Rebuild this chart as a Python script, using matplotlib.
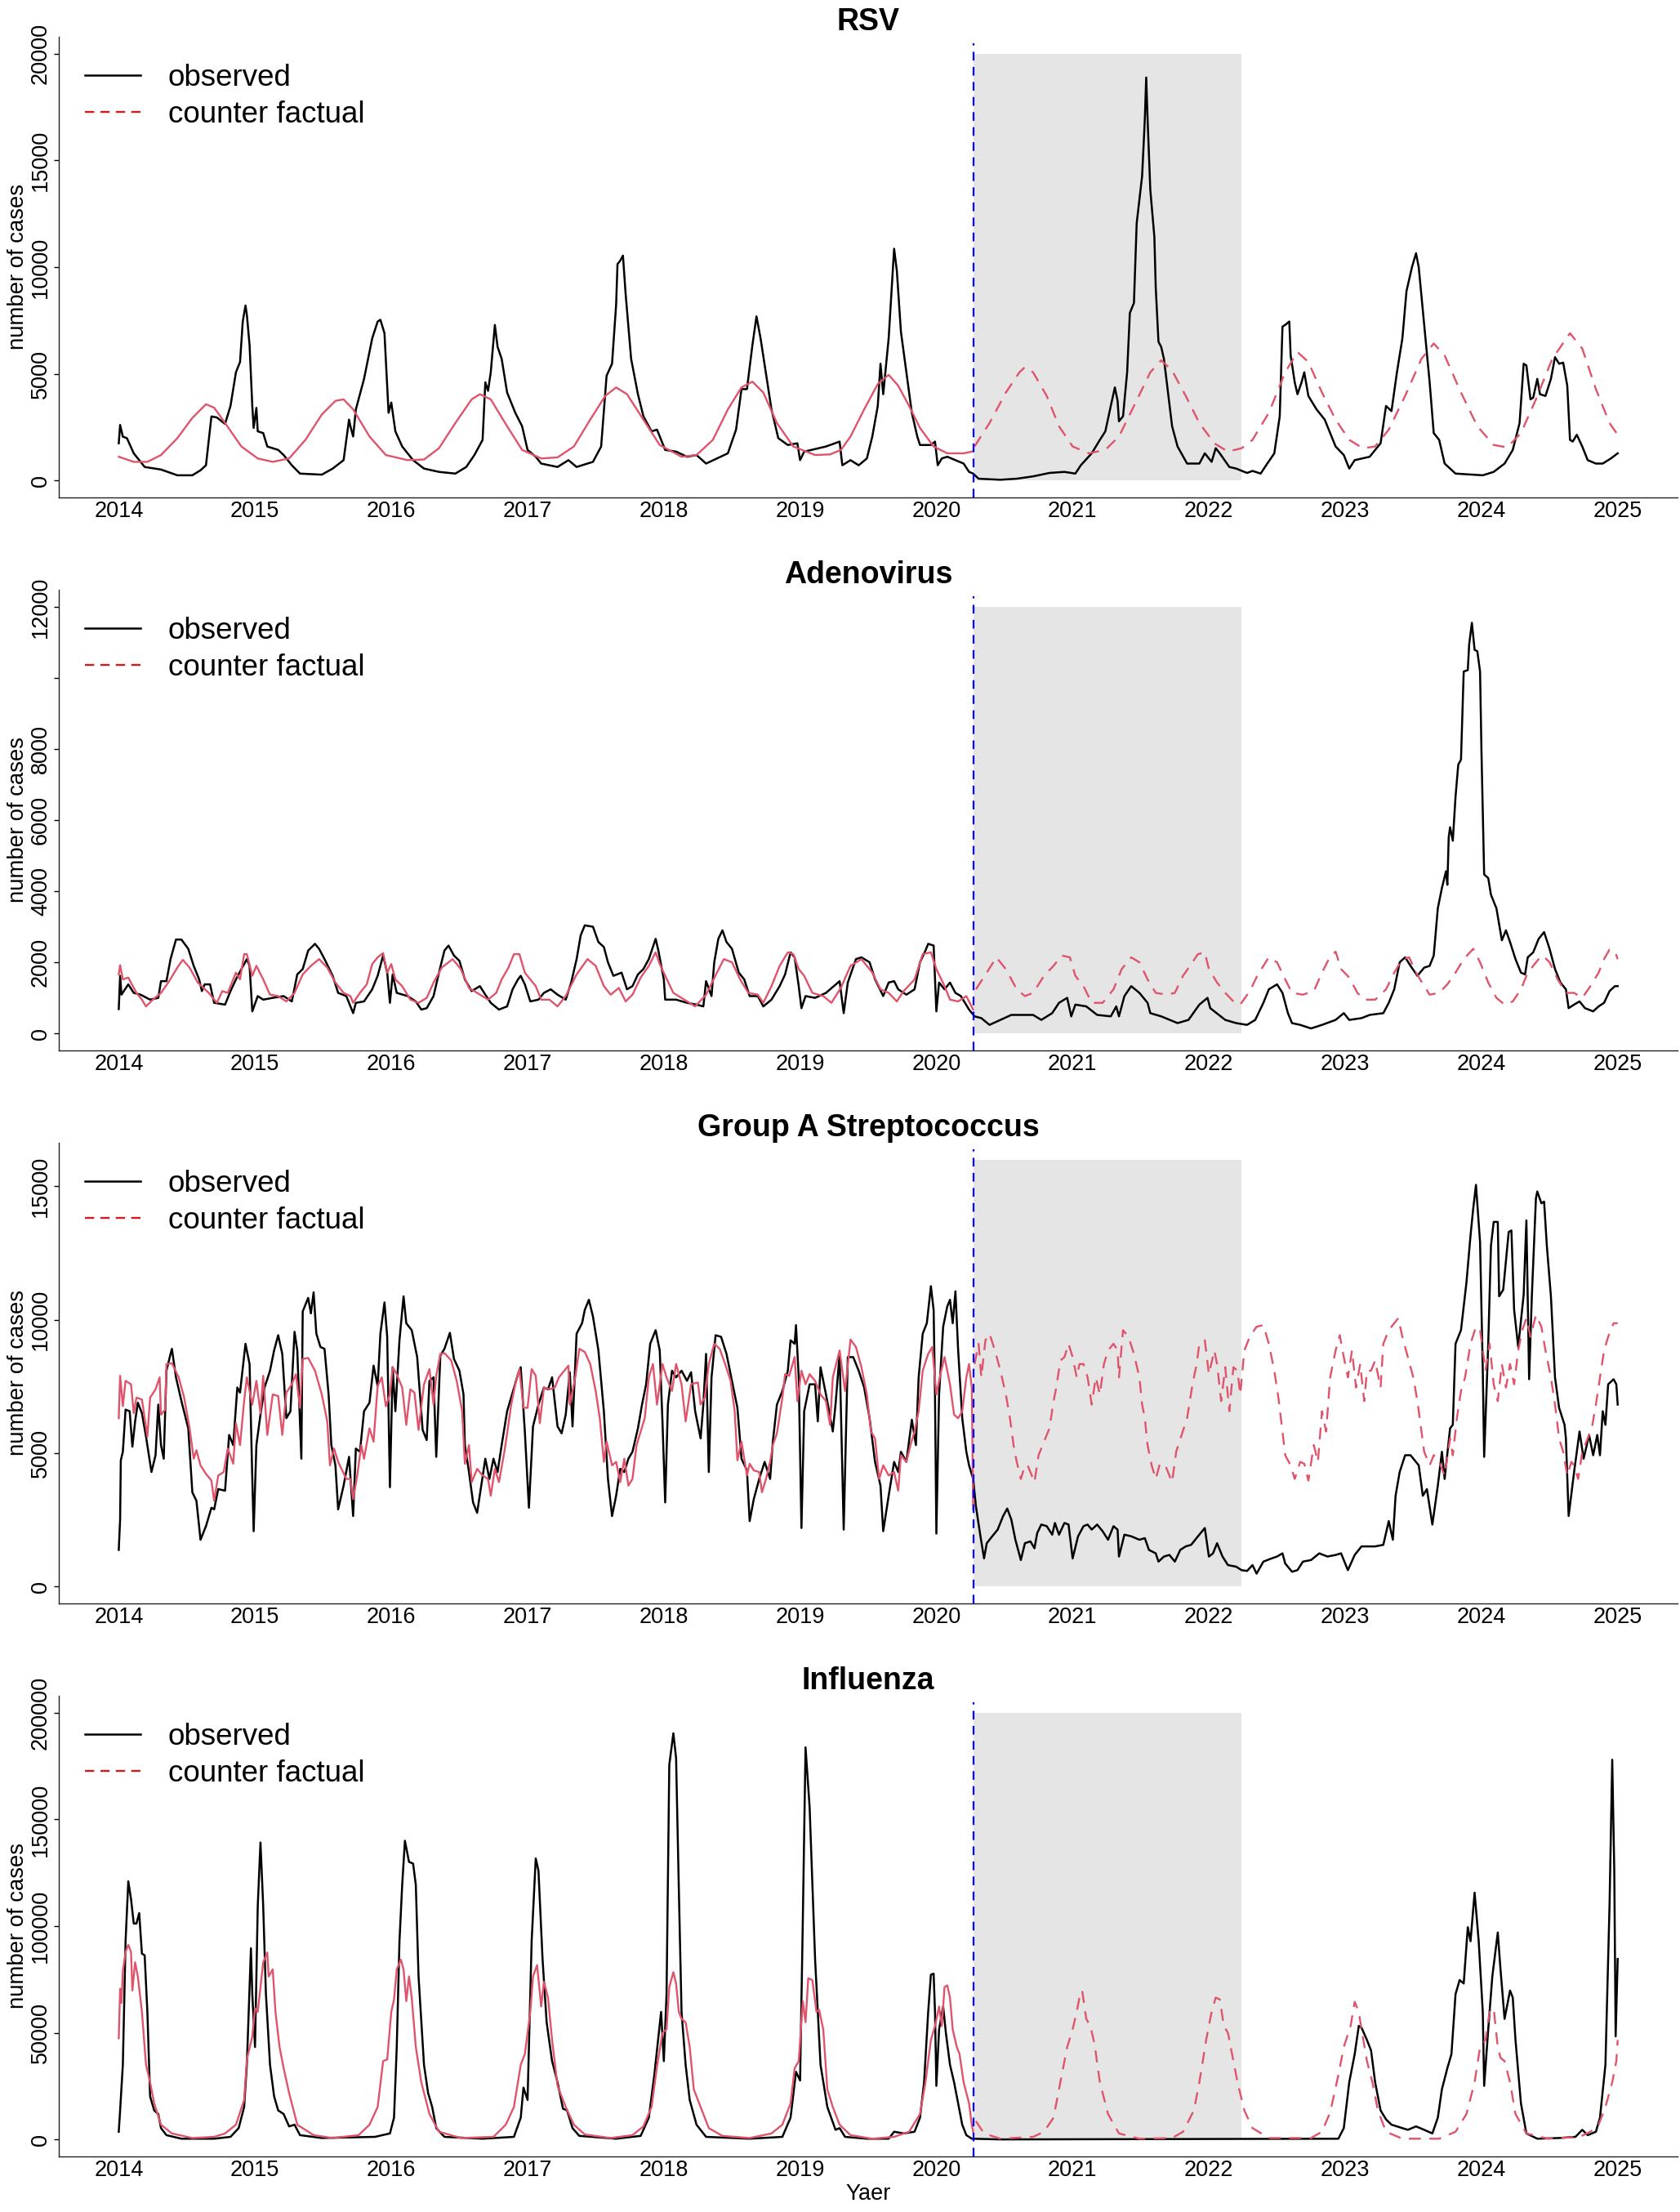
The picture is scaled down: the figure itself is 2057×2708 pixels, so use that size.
import matplotlib
matplotlib.use('Agg')
import matplotlib.pyplot as plt
from matplotlib.lines import Line2D
import numpy as np

plt.rcParams['font.family'] = ['Liberation Sans', 'DejaVu Sans']

# intervention line and shaded period (decimal years)
cut = 2020.27
shade_end = 2022.24

# ---- RSV ----
rsv_obs = [(2014.00,1740),(2014.01,2600),(2014.03,2050),(2014.06,1980),(2014.11,1270),(2014.19,630),(2014.31,510),(2014.43,240),(2014.54,240),(2014.60,475),(2014.64,710),(2014.68,3000),(2014.72,2950),(2014.78,2650),(2014.82,3490),(2014.86,5070),(2014.89,5550),(2014.91,7450),(2014.93,8200),(2014.94,7770),(2014.96,6340),(2014.98,3490),(2014.99,2460),(2015.01,3400),(2015.02,2300),(2015.06,2220),(2015.09,1590),(2015.17,1430),(2015.21,1190),(2015.27,710),(2015.33,320),(2015.49,270),(2015.57,555),(2015.65,950),(2015.69,2850),(2015.70,2540),(2015.72,2060),(2015.74,3330),(2015.80,4760),(2015.86,6660),(2015.90,7450),(2015.92,7530),(2015.95,6900),(2015.98,3170),(2016.00,3650),(2016.03,2300),(2016.08,1590),(2016.16,950),(2016.24,555),(2016.35,400),(2016.47,320),(2016.55,630),(2016.61,1190),(2016.67,1900),(2016.69,4600),(2016.71,4200),(2016.73,5070),(2016.76,7290),(2016.78,6260),(2016.81,5700),(2016.85,4120),(2016.91,3170),(2016.96,2540),(2017.00,1430),(2017.06,1110),(2017.10,790),(2017.22,630),(2017.30,950),(2017.36,630),(2017.48,870),(2017.54,1590),(2017.58,4910),(2017.62,5470),(2017.65,8240),(2017.66,10140),(2017.68,10300),(2017.70,10540),(2017.72,8720),(2017.76,5700),(2017.81,4040),(2017.85,3010),(2017.91,2300),(2017.95,2380),(2018.01,1430),(2018.09,1350),(2018.17,1110),(2018.24,1190),(2018.31,790),(2018.39,1030),(2018.47,1270),(2018.53,2380),(2018.57,4280),(2018.61,4280),(2018.65,6340),(2018.68,7690),(2018.71,6660),(2018.75,5000),(2018.79,3330),(2018.84,1980),(2018.91,1660),(2018.98,1740),(2019.00,950),(2019.03,1350),(2019.19,1590),(2019.29,1820),(2019.31,710),(2019.37,950),(2019.43,710),(2019.49,1030),(2019.53,2060),(2019.57,3490),(2019.59,5470),(2019.61,4040),(2019.65,6660),(2019.69,10860),(2019.71,9830),(2019.74,6970),(2019.78,5070),(2019.82,3170),(2019.86,2060),(2019.88,1660),(2019.96,1660),(2019.99,1820),(2020.01,710),(2020.04,1030),(2020.08,1110),(2020.14,950),(2020.20,790),(2020.24,400),(2020.27,320),(2020.31,80),(2020.47,30),(2020.59,80),(2020.71,190),(2020.83,350),(2020.94,400),(2021.02,320),(2021.06,710),(2021.14,1270),(2021.20,1900),(2021.24,2300),(2021.28,3490),(2021.31,4360),(2021.33,3730),(2021.34,2770),(2021.37,3010),(2021.40,5070),(2021.42,7850),(2021.45,8320),(2021.47,12050),(2021.51,14270),(2021.53,16960),(2021.54,18890),(2021.55,16960),(2021.57,13630),(2021.60,11410),(2021.61,9030),(2021.63,6500),(2021.65,6260),(2021.67,5700),(2021.70,4120),(2021.73,2540),(2021.77,1590),(2021.84,790),(2021.93,790),(2021.97,1270),(2022.02,870),(2022.05,1510),(2022.08,1270),(2022.15,630),(2022.20,555),(2022.28,350),(2022.32,445),(2022.38,320),(2022.42,710),(2022.48,1270),(2022.52,3010),(2022.54,7210),(2022.56,7290),(2022.59,7450),(2022.60,5860),(2022.63,4600),(2022.65,4040),(2022.68,4600),(2022.70,5070),(2022.73,3960),(2022.79,3330),(2022.85,2850),(2022.89,2220),(2022.93,1590),(2022.99,1190),(2023.03,555),(2023.07,950),(2023.18,1110),(2023.26,1740),(2023.30,3490),(2023.34,3250),(2023.38,5070),(2023.42,6660),(2023.45,8870),(2023.49,9990),(2023.52,10650),(2023.54,9990),(2023.58,7290),(2023.62,4600),(2023.65,2220),(2023.69,1900),(2023.73,790),(2023.81,320),(2024.01,240),(2024.09,400),(2024.17,790),(2024.23,1430),(2024.28,2690),(2024.31,5470),(2024.33,5390),(2024.36,3800),(2024.38,3880),(2024.41,4760),(2024.43,4040),(2024.47,3960),(2024.51,4760),(2024.54,5780),(2024.57,5470),(2024.60,5520),(2024.63,4440),(2024.65,1900),(2024.67,1820),(2024.70,2140),(2024.74,1590),(2024.78,950),(2024.84,790),(2024.89,790),(2024.95,1030),(2025.00,1270)]

rsv_cf = [(2014.00,1110),(2014.11,870),(2014.21,870),(2014.31,1190),(2014.43,1980),(2014.54,2930),(2014.64,3570),(2014.70,3410),(2014.78,2690),(2014.90,1590),(2015.02,1030),(2015.13,870),(2015.25,1030),(2015.37,1900),(2015.49,3090),(2015.59,3730),(2015.65,3800),(2015.72,3330),(2015.84,2060),(2015.96,1190),(2016.12,950),(2016.24,980),(2016.35,1510),(2016.47,2690),(2016.59,3800),(2016.65,4040),(2016.73,3800),(2016.85,2540),(2016.96,1430),(2017.10,1030),(2017.22,1080),(2017.34,1590),(2017.46,2850),(2017.57,3960),(2017.65,4360),(2017.73,4040),(2017.85,2850),(2017.97,1660),(2018.13,1110),(2018.24,1190),(2018.36,1900),(2018.47,3330),(2018.57,4360),(2018.65,4630),(2018.73,4120),(2018.83,2690),(2018.95,1590),(2019.11,1190),(2019.22,1220),(2019.30,1430),(2019.37,2060),(2019.47,3330),(2019.57,4520),(2019.65,4950),(2019.72,4440),(2019.80,3490),(2019.88,2460),(2019.98,1590),(2020.08,1270),(2020.20,1270),(2020.26,1350),(2020.28,1590),(2020.39,2690),(2020.51,4120),(2020.61,5070),(2020.65,5310),(2020.71,5070),(2020.81,3960),(2020.90,2540),(2021.00,1590),(2021.12,1270),(2021.24,1430),(2021.34,2060),(2021.45,3490),(2021.57,5070),(2021.65,5630),(2021.73,5150),(2021.83,3960),(2021.93,2690),(2022.04,1740),(2022.14,1350),(2022.24,1510),(2022.32,1900),(2022.44,3170),(2022.56,5070),(2022.65,6020),(2022.73,5550),(2022.83,4120),(2022.93,2850),(2023.03,1900),(2023.13,1510),(2023.22,1590),(2023.32,2380),(2023.44,3960),(2023.56,5700),(2023.65,6420),(2023.73,5860),(2023.85,4120),(2023.97,2540),(2024.09,1660),(2024.19,1550),(2024.29,2220),(2024.40,3800),(2024.52,5700),(2024.65,6900),(2024.74,6180),(2024.84,4280),(2024.94,2690),(2025.00,2140)]

# ---- Adenovirus ----
adeno_obs = [(2014.00,685),(2014.01,1620),(2014.02,1090),(2014.07,1380),(2014.11,1140),(2014.16,1090),(2014.23,950),(2014.29,1000),(2014.31,1470),(2014.35,1470),(2014.38,2090),(2014.42,2640),(2014.46,2640),(2014.51,2380),(2014.55,1900),(2014.59,1520),(2014.61,1190),(2014.63,1380),(2014.67,1380),(2014.70,860),(2014.78,810),(2014.82,1190),(2014.86,1520),(2014.90,1810),(2014.94,2090),(2014.96,1900),(2014.98,620),(2015.02,1050),(2015.06,950),(2015.13,1000),(2015.21,1050),(2015.27,900),(2015.31,1660),(2015.35,1810),(2015.39,2330),(2015.44,2520),(2015.47,2380),(2015.51,2090),(2015.57,1620),(2015.61,1140),(2015.67,1050),(2015.72,570),(2015.74,860),(2015.80,900),(2015.86,1240),(2015.90,1620),(2015.94,2190),(2015.97,1710),(2015.99,860),(2016.01,1660),(2016.04,1140),(2016.12,1050),(2016.18,900),(2016.22,670),(2016.26,710),(2016.31,1050),(2016.35,1710),(2016.39,2330),(2016.42,2470),(2016.46,2190),(2016.50,2040),(2016.54,1520),(2016.59,1190),(2016.65,1330),(2016.69,1090),(2016.73,860),(2016.79,670),(2016.85,760),(2016.89,1240),(2016.93,1520),(2016.95,1620),(2016.98,1380),(2017.02,900),(2017.08,950),(2017.12,1140),(2017.17,1240),(2017.22,1090),(2017.28,950),(2017.32,1430),(2017.36,2090),(2017.39,2760),(2017.42,3040),(2017.48,3000),(2017.52,2570),(2017.56,2430),(2017.59,2000),(2017.63,1620),(2017.69,1710),(2017.73,1240),(2017.77,1330),(2017.81,1660),(2017.85,1810),(2017.89,2090),(2017.94,2660),(2017.96,2330),(2018.00,1520),(2018.01,950),(2018.09,950),(2018.17,860),(2018.24,810),(2018.29,760),(2018.31,1470),(2018.35,1050),(2018.37,2000),(2018.40,2660),(2018.43,2900),(2018.46,2570),(2018.50,2380),(2018.55,1710),(2018.59,1520),(2018.63,1050),(2018.69,1050),(2018.73,760),(2018.79,950),(2018.85,1330),(2018.89,1660),(2018.93,2280),(2018.96,2140),(2018.99,1330),(2019.01,710),(2019.04,1050),(2019.11,1000),(2019.19,1140),(2019.29,1470),(2019.32,570),(2019.35,1430),(2019.41,2090),(2019.45,2140),(2019.51,2000),(2019.55,1520),(2019.61,1050),(2019.65,1430),(2019.69,1470),(2019.72,1240),(2019.78,1090),(2019.84,1240),(2019.88,2000),(2019.92,2330),(2019.94,2520),(2019.98,2470),(2020.00,620),(2020.02,1430),(2020.06,1240),(2020.10,1430),(2020.14,1140),(2020.18,1050),(2020.24,670),(2020.28,480),(2020.33,430),(2020.39,240),(2020.47,380),(2020.55,520),(2020.63,520),(2020.71,520),(2020.77,380),(2020.85,570),(2020.90,860),(2020.96,1000),(2020.99,480),(2021.02,810),(2021.10,760),(2021.18,520),(2021.28,480),(2021.32,760),(2021.34,480),(2021.38,1050),(2021.43,1330),(2021.49,1140),(2021.55,860),(2021.57,570),(2021.65,480),(2021.77,290),(2021.85,380),(2021.93,810),(2021.99,1000),(2022.01,710),(2022.04,620),(2022.12,380),(2022.20,290),(2022.28,240),(2022.34,380),(2022.40,860),(2022.44,1240),(2022.50,1380),(2022.54,1140),(2022.58,570),(2022.61,290),(2022.67,240),(2022.75,140),(2022.83,240),(2022.93,380),(2022.99,570),(2023.03,380),(2023.12,430),(2023.18,520),(2023.28,570),(2023.32,860),(2023.36,1240),(2023.40,2000),(2023.44,2140),(2023.48,1900),(2023.53,1620),(2023.58,1850),(2023.62,1900),(2023.65,2190),(2023.68,3520),(2023.71,4090),(2023.74,4560),(2023.75,4180),(2023.76,5520),(2023.77,5800),(2023.79,5420),(2023.81,6660),(2023.83,7560),(2023.85,7700),(2023.87,10180),(2023.90,10220),(2023.91,10940),(2023.93,11550),(2023.95,10790),(2023.97,10750),(2023.99,10180),(2024.00,7990),(2024.02,4470),(2024.05,4370),(2024.07,3900),(2024.11,3520),(2024.15,2620),(2024.18,2900),(2024.21,2570),(2024.25,2090),(2024.29,1710),(2024.32,1660),(2024.34,2140),(2024.38,2280),(2024.42,2660),(2024.46,2850),(2024.50,2380),(2024.54,1810),(2024.58,1430),(2024.62,1240),(2024.64,710),(2024.68,810),(2024.72,900),(2024.76,710),(2024.82,620),(2024.86,760),(2024.90,860),(2024.94,1190),(2024.98,1330),(2025.00,1330)]

adeno_cf = [(2014.00,1660),(2014.01,1920),(2014.03,1520),(2014.07,1570),(2014.13,1140),(2014.17,950),(2014.20,760),(2014.25,950),(2014.31,1140),(2014.37,1470),(2014.43,1850),(2014.47,2070),(2014.52,1850),(2014.58,1430),(2014.66,1140),(2014.72,860),(2014.76,1190),(2014.80,1140),(2014.86,1710),(2014.89,1520),(2014.92,2230),(2014.94,2230),(2014.98,1620),(2015.01,1900),(2015.06,1520),(2015.11,1090),(2015.17,1050),(2015.23,900),(2015.29,1140),(2015.35,1660),(2015.41,1900),(2015.47,2090),(2015.53,1850),(2015.59,1430),(2015.65,1140),(2015.70,1050),(2015.72,860),(2015.77,1140),(2015.82,1380),(2015.86,1950),(2015.90,2140),(2015.94,2260),(2015.97,1710),(2016.00,1950),(2016.03,1520),(2016.08,1330),(2016.14,950),(2016.20,860),(2016.26,1000),(2016.31,1430),(2016.37,1850),(2016.45,2090),(2016.51,1810),(2016.57,1280),(2016.63,1140),(2016.71,950),(2016.77,1140),(2016.81,1520),(2016.86,1850),(2016.90,2230),(2016.94,2230),(2016.98,1710),(2017.02,1520),(2017.06,1330),(2017.10,950),(2017.16,950),(2017.22,760),(2017.28,1050),(2017.36,1660),(2017.44,2090),(2017.50,1900),(2017.56,1330),(2017.61,1090),(2017.67,1280),(2017.72,900),(2017.77,1090),(2017.83,1570),(2017.89,1900),(2017.94,2280),(2017.97,1950),(2018.01,1620),(2018.07,1140),(2018.15,950),(2018.23,760),(2018.31,1090),(2018.39,1710),(2018.44,2090),(2018.50,2000),(2018.56,1520),(2018.62,1140),(2018.69,1090),(2018.73,860),(2018.79,1330),(2018.85,1900),(2018.91,2280),(2018.95,2230),(2018.99,1810),(2019.03,1620),(2019.09,1140),(2019.17,1050),(2019.23,860),(2019.30,1290),(2019.37,1900),(2019.45,2090),(2019.53,1710),(2019.59,1240),(2019.65,1140),(2019.71,900),(2019.76,1190),(2019.84,1520),(2019.90,2230),(2019.96,2280),(2020.00,1810),(2020.06,1330),(2020.10,950),(2020.16,900),(2020.22,1050),(2020.27,670),(2020.29,1240),(2020.37,1710),(2020.44,2140),(2020.51,1810),(2020.59,1240),(2020.65,1050),(2020.71,1140),(2020.79,1620),(2020.86,1900),(2020.92,2190),(2020.98,2140),(2021.02,1620),(2021.08,1330),(2021.14,860),(2021.22,860),(2021.30,1240),(2021.36,1810),(2021.43,2140),(2021.49,2000),(2021.55,1520),(2021.61,1140),(2021.69,1090),(2021.75,1140),(2021.81,1620),(2021.87,1950),(2021.92,2230),(2021.97,2280),(2022.00,1810),(2022.06,1430),(2022.12,1140),(2022.18,900),(2022.23,810),(2022.30,1190),(2022.36,1660),(2022.44,2140),(2022.50,2000),(2022.56,1520),(2022.61,1140),(2022.69,1090),(2022.77,1190),(2022.83,1710),(2022.88,2090),(2022.93,2300),(2022.97,1810),(2023.03,1570),(2023.09,1140),(2023.14,950),(2023.22,950),(2023.30,1240),(2023.36,1710),(2023.42,2090),(2023.47,2140),(2023.52,1710),(2023.58,1330),(2023.62,1090),(2023.69,1140),(2023.75,1380),(2023.81,1710),(2023.87,2090),(2023.94,2380),(2023.99,2000),(2024.05,1430),(2024.11,1000),(2024.17,810),(2024.23,900),(2024.29,1240),(2024.34,1710),(2024.42,2090),(2024.45,2190),(2024.50,2000),(2024.56,1520),(2024.62,1140),(2024.68,1140),(2024.74,1000),(2024.80,1330),(2024.86,1710),(2024.90,2090),(2024.94,2360),(2024.98,2300),(2025.00,2090)]

# ---- Group A Streptococcus ----
gas_obs = [(2014.00,1370),(2014.01,2510),(2014.015,4730),(2014.03,5050),(2014.05,6630),(2014.08,6570),(2014.10,5240),(2014.12,6190),(2014.14,6890),(2014.17,6500),(2014.20,5620),(2014.24,4290),(2014.27,4920),(2014.29,6820),(2014.31,5300),(2014.33,4790),(2014.35,8090),(2014.38,8720),(2014.39,8910),(2014.42,7840),(2014.46,6950),(2014.51,5930),(2014.54,3530),(2014.57,3210),(2014.60,1750),(2014.64,2260),(2014.68,2950),(2014.70,2890),(2014.73,3650),(2014.78,3590),(2014.81,5680),(2014.84,5300),(2014.87,7460),(2014.89,7270),(2014.93,9100),(2014.96,8340),(2014.98,4030),(2014.99,2070),(2015.01,5300),(2015.04,6440),(2015.07,7460),(2015.11,8090),(2015.14,8850),(2015.17,9420),(2015.20,8720),(2015.23,6310),(2015.26,6570),(2015.29,9550),(2015.31,8850),(2015.34,4790),(2015.35,10310),(2015.39,10820),(2015.41,10240),(2015.43,11030),(2015.45,9480),(2015.48,8980),(2015.51,8910),(2015.54,7200),(2015.56,5300),(2015.59,4540),(2015.61,2890),(2015.65,3780),(2015.69,4860),(2015.72,2640),(2015.74,5170),(2015.77,5050),(2015.80,6570),(2015.84,6890),(2015.87,8280),(2015.90,7520),(2015.92,9480),(2015.95,10650),(2015.97,9360),(2015.99,3720),(2016.01,8220),(2016.03,6570),(2016.06,9230),(2016.09,10880),(2016.11,9870),(2016.15,9610),(2016.19,8600),(2016.23,5870),(2016.26,5490),(2016.28,7710),(2016.31,7840),(2016.33,4860),(2016.36,8660),(2016.39,8910),(2016.43,9510),(2016.46,8530),(2016.50,8090),(2016.53,7200),(2016.54,5300),(2016.57,4290),(2016.60,3150),(2016.63,2760),(2016.66,3780),(2016.69,4790),(2016.72,4030),(2016.75,4790),(2016.78,4290),(2016.81,5300),(2016.85,6570),(2016.89,7270),(2016.93,7960),(2016.95,8220),(2016.98,5810),(2017.01,2950),(2017.04,6000),(2017.08,6820),(2017.12,7460),(2017.15,7390),(2017.18,7840),(2017.22,6000),(2017.25,5740),(2017.28,6440),(2017.31,8030),(2017.33,6000),(2017.36,9480),(2017.40,9870),(2017.42,10370),(2017.45,10750),(2017.48,10120),(2017.52,8850),(2017.56,6570),(2017.59,4030),(2017.62,2640),(2017.65,3400),(2017.68,4410),(2017.71,4290),(2017.74,4790),(2017.77,5050),(2017.81,5930),(2017.84,6820),(2017.87,7580),(2017.90,9100),(2017.94,9610),(2017.97,8850),(2017.99,6190),(2018.01,3150),(2018.03,6820),(2018.06,8090),(2018.09,7840),(2018.13,8090),(2018.17,7710),(2018.20,8030),(2018.23,6570),(2018.27,5550),(2018.29,6820),(2018.31,8720),(2018.33,4290),(2018.35,7840),(2018.38,9420),(2018.42,9360),(2018.46,8720),(2018.50,7710),(2018.54,6700),(2018.57,4790),(2018.61,4350),(2018.63,2450),(2018.66,3270),(2018.70,4030),(2018.74,4670),(2018.78,4030),(2018.80,5430),(2018.83,6820),(2018.87,7330),(2018.91,8090),(2018.93,9230),(2018.96,9100),(2018.97,9800),(2018.99,7840),(2019.01,2190),(2019.03,6570),(2019.07,7580),(2019.11,7580),(2019.13,6190),(2019.15,8220),(2019.19,7200),(2019.22,6380),(2019.24,5810),(2019.26,6820),(2019.29,8720),(2019.32,2130),(2019.35,8600),(2019.39,8600),(2019.43,8090),(2019.47,7460),(2019.51,6310),(2019.55,4670),(2019.59,3780),(2019.61,2070),(2019.65,3400),(2019.69,4670),(2019.72,4290),(2019.74,5050),(2019.78,4670),(2019.82,6250),(2019.85,5300),(2019.87,7840),(2019.90,9480),(2019.93,9870),(2019.96,11260),(2019.98,10370),(2019.99,7200),(2020.00,1980),(2020.02,7200),(2020.05,9740),(2020.08,10500),(2020.10,10750),(2020.12,9870),(2020.14,11070),(2020.16,8850),(2020.19,6310),(2020.22,5050),(2020.24,4540),(2020.27,4030),(2020.29,3020),(2020.32,2000),(2020.35,1050),(2020.37,1620),(2020.41,1880),(2020.45,2130),(2020.49,2640),(2020.52,2920),(2020.55,2510),(2020.58,1750),(2020.62,990),(2020.65,1620),(2020.69,1690),(2020.72,1430),(2020.74,2000),(2020.77,2320),(2020.81,2260),(2020.85,1940),(2020.87,2380),(2020.90,1940),(2020.94,2380),(2020.97,2320),(2021.00,1050),(2021.04,1880),(2021.08,2260),(2021.11,2320),(2021.14,2130),(2021.18,2320),(2021.22,2070),(2021.26,1750),(2021.30,2260),(2021.33,2130),(2021.34,1120),(2021.38,1940),(2021.43,1880),(2021.49,1750),(2021.53,1810),(2021.56,1370),(2021.61,1240),(2021.63,930),(2021.67,1120),(2021.71,1180),(2021.75,930),(2021.79,1370),(2021.83,1500),(2021.87,1560),(2021.92,1880),(2021.97,2190),(2022.00,1120),(2022.03,1240),(2022.06,1620),(2022.10,1120),(2022.14,800),(2022.20,740),(2022.24,610),(2022.28,580),(2022.32,800),(2022.35,480),(2022.40,930),(2022.46,1050),(2022.50,1120),(2022.54,1240),(2022.56,860),(2022.61,550),(2022.65,610),(2022.69,930),(2022.75,990),(2022.81,1240),(2022.87,1120),(2022.93,1180),(2022.97,1240),(2023.02,610),(2023.07,1180),(2023.12,1500),(2023.16,1500),(2023.22,1500),(2023.28,1560),(2023.32,2450),(2023.35,1750),(2023.37,3400),(2023.40,4290),(2023.44,4920),(2023.48,4920),(2023.54,4540),(2023.57,3400),(2023.60,3650),(2023.64,2320),(2023.68,3780),(2023.71,5050),(2023.73,4030),(2023.77,5930),(2023.79,6060),(2023.81,9100),(2023.85,9610),(2023.89,11390),(2023.92,13160),(2023.94,14180),(2023.96,15060),(2023.99,12910),(2024.01,8090),(2024.02,4860),(2024.05,9100),(2024.07,12780),(2024.09,13670),(2024.12,13670),(2024.13,10880),(2024.16,11130),(2024.20,13290),(2024.22,13350),(2024.24,10370),(2024.27,8980),(2024.31,10940),(2024.33,13730),(2024.35,7770),(2024.37,10880),(2024.40,14560),(2024.41,14810),(2024.44,14370),(2024.46,14430),(2024.48,12780),(2024.51,10880),(2024.54,7840),(2024.57,6700),(2024.61,6060),(2024.62,5550),(2024.64,2640),(2024.68,4290),(2024.72,5810),(2024.75,4790),(2024.79,5680),(2024.82,4920),(2024.85,5680),(2024.87,4920),(2024.89,6570),(2024.91,6060),(2024.93,7580),(2024.97,7770),(2024.99,7580),(2025.00,6820)]

gas_cf = [(2014.00,6310),(2014.01,7900),(2014.03,6760),(2014.05,7710),(2014.09,7580),(2014.11,6500),(2014.13,7080),(2014.17,7010),(2014.21,5620),(2014.23,7080),(2014.27,7390),(2014.30,7840),(2014.31,6440),(2014.34,6630),(2014.35,8340),(2014.39,8370),(2014.44,7840),(2014.48,7080),(2014.52,5930),(2014.55,4790),(2014.57,5110),(2014.60,4540),(2014.64,4220),(2014.68,3970),(2014.70,3210),(2014.73,4160),(2014.77,4290),(2014.80,5170),(2014.84,4600),(2014.86,6120),(2014.89,5300),(2014.92,6950),(2014.94,7840),(2014.98,6820),(2015.01,7710),(2015.04,6500),(2015.06,7900),(2015.09,5680),(2015.13,7200),(2015.17,7140),(2015.20,5680),(2015.23,7270),(2015.27,7580),(2015.30,7960),(2015.33,6700),(2015.35,8530),(2015.39,8570),(2015.44,8090),(2015.49,7200),(2015.53,6190),(2015.55,4540),(2015.58,5170),(2015.61,4670),(2015.67,4030),(2015.70,4030),(2015.72,3270),(2015.75,4160),(2015.78,5300),(2015.80,4790),(2015.84,5930),(2015.87,5430),(2015.90,7520),(2015.93,7840),(2015.96,6760),(2015.99,7200),(2016.01,8220),(2016.04,7960),(2016.08,7460),(2016.11,6060),(2016.14,7390),(2016.17,7270),(2016.20,5870),(2016.24,7580),(2016.28,8150),(2016.31,6820),(2016.33,7900),(2016.36,8720),(2016.39,8750),(2016.44,8470),(2016.48,7710),(2016.52,6570),(2016.54,4600),(2016.57,5300),(2016.59,3910),(2016.63,4410),(2016.67,4160),(2016.71,4030),(2016.73,3400),(2016.76,4410),(2016.79,3910),(2016.83,5050),(2016.85,5740),(2016.88,6820),(2016.91,7580),(2016.94,8150),(2016.97,6700),(2017.00,6700),(2017.03,8150),(2017.06,7900),(2017.09,6120),(2017.12,7460),(2017.16,7390),(2017.20,7460),(2017.23,7840),(2017.26,8030),(2017.30,8280),(2017.31,6820),(2017.35,7840),(2017.38,8910),(2017.42,8790),(2017.46,8340),(2017.50,7330),(2017.53,6310),(2017.56,4670),(2017.58,5430),(2017.62,4540),(2017.65,4670),(2017.68,3910),(2017.71,4790),(2017.74,3780),(2017.77,4030),(2017.80,5300),(2017.83,5810),(2017.86,6310),(2017.89,7840),(2017.92,8340),(2017.95,6820),(2017.99,8340),(2018.02,7840),(2018.06,7330),(2018.09,8340),(2018.13,7580),(2018.16,6190),(2018.20,7580),(2018.25,7650),(2018.27,6820),(2018.30,7080),(2018.33,8340),(2018.37,9100),(2018.41,8910),(2018.45,8340),(2018.49,7710),(2018.52,6570),(2018.54,4730),(2018.57,5430),(2018.61,4160),(2018.63,4600),(2018.66,4350),(2018.70,4290),(2018.72,3530),(2018.75,4030),(2018.78,4670),(2018.80,5300),(2018.83,5740),(2018.87,7080),(2018.89,7960),(2018.92,7900),(2018.96,8600),(2018.98,6950),(2019.01,8090),(2019.04,7580),(2019.07,7960),(2019.11,7710),(2019.15,7200),(2019.19,6950),(2019.22,6060),(2019.24,7840),(2019.29,8850),(2019.33,7330),(2019.37,9260),(2019.41,8980),(2019.45,8220),(2019.49,7200),(2019.52,5810),(2019.55,5550),(2019.58,4030),(2019.61,4540),(2019.65,4160),(2019.69,4290),(2019.72,3590),(2019.74,4920),(2019.78,4670),(2019.81,5300),(2019.84,5810),(2019.87,6570),(2019.90,8090),(2019.94,8720),(2019.97,8980),(2020.00,7200),(2020.03,7960),(2020.06,8600),(2020.10,7580),(2020.13,6440),(2020.16,6310),(2020.19,6570),(2020.22,7840),(2020.24,8340),(2020.26,7460),(2020.27,2890),(2020.28,8340),(2020.31,9100),(2020.33,7840),(2020.36,9230),(2020.39,9480),(2020.43,8850),(2020.47,8090),(2020.51,7200),(2020.54,6310),(2020.57,5170),(2020.59,4670),(2020.62,4030),(2020.65,4540),(2020.67,4540),(2020.72,3910),(2020.75,4920),(2020.79,5430),(2020.83,5930),(2020.86,6950),(2020.88,7460),(2020.91,8470),(2020.94,8600),(2020.97,9100),(2021.00,8600),(2021.03,7840),(2021.05,8340),(2021.08,8340),(2021.11,7840),(2021.14,6820),(2021.17,7840),(2021.20,7200),(2021.23,8340),(2021.26,8850),(2021.30,9100),(2021.33,8850),(2021.34,7840),(2021.37,9610),(2021.41,9360),(2021.45,8720),(2021.49,7840),(2021.51,6820),(2021.53,6310),(2021.55,5300),(2021.58,4540),(2021.61,4030),(2021.64,4600),(2021.68,4540),(2021.73,3910),(2021.76,5050),(2021.80,5680),(2021.84,6310),(2021.88,7580),(2021.91,8340),(2021.93,9100),(2021.97,9230),(2022.00,7960),(2022.04,8850),(2022.06,8340),(2022.09,6950),(2022.12,8220),(2022.15,6570),(2022.18,8220),(2022.21,8090),(2022.23,7200),(2022.26,8850),(2022.30,9360),(2022.35,9740),(2022.40,9800),(2022.44,9100),(2022.48,8090),(2022.51,7080),(2022.54,5810),(2022.56,4920),(2022.60,4540),(2022.63,4030),(2022.67,4670),(2022.70,4600),(2022.73,3970),(2022.77,5300),(2022.80,4670),(2022.83,6570),(2022.86,5810),(2022.89,7840),(2022.93,8850),(2022.96,9420),(2022.99,8600),(2023.02,7840),(2023.05,8850),(2023.08,7460),(2023.11,8340),(2023.14,6950),(2023.16,8090),(2023.19,8090),(2023.22,8470),(2023.26,7460),(2023.28,9100),(2023.32,9610),(2023.36,9870),(2023.39,10060),(2023.42,9360),(2023.46,8600),(2023.50,7840),(2023.53,6950),(2023.56,5810),(2023.58,5050),(2023.62,4540),(2023.65,4920),(2023.68,4790),(2023.70,4540),(2023.73,4160),(2023.77,5550),(2023.79,4920),(2023.82,6310),(2023.85,7330),(2023.88,7840),(2023.92,9100),(2023.96,9740),(2023.99,9610),(2024.03,8090),(2024.06,9100),(2024.09,7580),(2024.12,6950),(2024.15,8340),(2024.18,7460),(2024.21,8340),(2024.24,7580),(2024.27,8850),(2024.30,9610),(2024.33,10060),(2024.36,9360),(2024.40,10180),(2024.44,9740),(2024.47,8850),(2024.51,7840),(2024.54,6820),(2024.57,5550),(2024.60,5050),(2024.63,4160),(2024.66,4670),(2024.68,4540),(2024.71,4030),(2024.74,5050),(2024.77,5430),(2024.81,5930),(2024.84,6820),(2024.87,7840),(2024.90,8850),(2024.93,9360),(2024.97,9870),(2025.00,9870)]

# ---- Influenza ----
flu_obs = [(2014.00,3600),(2014.01,13600),(2014.03,35000),(2014.05,92900),(2014.07,121000),(2014.09,112700),(2014.11,101200),(2014.13,101200),(2014.15,106100),(2014.17,87100),(2014.19,86300),(2014.21,59800),(2014.23,20200),(2014.26,13600),(2014.29,11900),(2014.31,5300),(2014.35,2000),(2014.46,330),(2014.70,330),(2014.82,1200),(2014.88,5300),(2014.92,15200),(2014.94,35000),(2014.97,89600),(2014.98,68100),(2015.00,43300),(2015.02,109400),(2015.04,139200),(2015.06,109400),(2015.08,68100),(2015.11,35000),(2015.14,20200),(2015.17,13600),(2015.21,11900),(2015.25,6100),(2015.29,6900),(2015.33,2000),(2015.49,660),(2015.88,1200),(2015.99,2800),(2016.02,10200),(2016.04,43300),(2016.06,92900),(2016.08,119300),(2016.10,140000),(2016.13,130100),(2016.16,129300),(2016.18,119300),(2016.20,76400),(2016.24,35000),(2016.27,21800),(2016.30,15200),(2016.33,5300),(2016.39,1200),(2016.67,330),(2016.90,1200),(2016.95,10200),(2016.97,24300),(2017.00,18500),(2017.03,92900),(2017.06,131700),(2017.08,126000),(2017.11,84600),(2017.14,54900),(2017.18,36700),(2017.22,26800),(2017.26,14400),(2017.29,13600),(2017.33,5300),(2017.38,1650),(2017.65,330),(2017.83,1650),(2017.89,10200),(2017.93,30100),(2017.98,59800),(2018.00,36700),(2018.02,68100),(2018.04,175500),(2018.06,185500),(2018.07,190400),(2018.09,178800),(2018.11,117700),(2018.13,59800),(2018.16,35000),(2018.19,18500),(2018.24,6900),(2018.31,1200),(2018.63,330),(2018.87,1200),(2018.93,10200),(2018.97,31700),(2019.00,27600),(2019.02,102800),(2019.04,183800),(2019.07,155700),(2019.11,84600),(2019.15,35000),(2019.20,15200),(2019.26,4500),(2019.29,5300),(2019.33,1200),(2019.49,330),(2019.65,330),(2019.69,3600),(2019.76,2800),(2019.84,3600),(2019.88,10200),(2019.91,26800),(2019.94,59800),(2019.96,77200),(2019.98,77700),(2019.99,59800),(2020.00,25100),(2020.02,51600),(2020.05,62300),(2020.07,49900),(2020.10,35000),(2020.13,26800),(2020.16,16900),(2020.19,6900),(2020.22,2000),(2020.26,330),(2020.47,0),(2022.95,330),(2022.99,5300),(2023.03,26800),(2023.07,40000),(2023.10,53200),(2023.12,52400),(2023.16,46600),(2023.19,41700),(2023.22,26800),(2023.26,13600),(2023.30,9400),(2023.34,6900),(2023.38,6100),(2023.42,5300),(2023.46,4500),(2023.52,6100),(2023.58,4500),(2023.64,2800),(2023.68,10200),(2023.71,23500),(2023.75,33400),(2023.78,40000),(2023.81,68100),(2023.84,74700),(2023.87,73100),(2023.90,99500),(2023.92,92900),(2023.95,115700),(2023.98,92900),(2024.01,59800),(2024.02,25100),(2024.05,51600),(2024.08,76400),(2024.12,97000),(2024.14,79700),(2024.17,56500),(2024.21,69800),(2024.23,66500),(2024.25,46600),(2024.29,16900),(2024.33,2800),(2024.41,330),(2024.57,660),(2024.69,1200),(2024.74,4500),(2024.78,2000),(2024.84,3600),(2024.87,10200),(2024.91,35000),(2024.94,109400),(2024.96,178000),(2024.975,126000),(2024.985,48300),(2025.00,84600)]

flu_cf = [(2014.00,47400),(2014.01,70600),(2014.02,64000),(2014.03,78800),(2014.05,87900),(2014.07,91200),(2014.09,87900),(2014.10,69800),(2014.12,83000),(2014.14,76400),(2014.17,59800),(2014.20,35000),(2014.23,26800),(2014.26,16900),(2014.31,6900),(2014.39,2800),(2014.54,660),(2014.70,1200),(2014.78,2800),(2014.86,6900),(2014.92,18500),(2014.94,37500),(2014.98,48300),(2015.00,61500),(2015.02,59800),(2015.06,83000),(2015.09,87600),(2015.10,76400),(2015.13,79700),(2015.15,59800),(2015.18,43300),(2015.21,33400),(2015.25,21800),(2015.31,6900),(2015.43,2000),(2015.57,660),(2015.76,2000),(2015.84,6900),(2015.90,15200),(2015.94,36700),(2015.97,37500),(2016.00,59800),(2016.02,65600),(2016.04,79700),(2016.07,84300),(2016.09,79700),(2016.11,64800),(2016.13,76400),(2016.15,66500),(2016.18,43300),(2016.22,26800),(2016.28,11900),(2016.35,3600),(2016.51,660),(2016.75,1200),(2016.84,6900),(2016.90,15200),(2016.95,35000),(2016.98,40000),(2017.02,59800),(2017.04,76400),(2017.07,81700),(2017.10,62300),(2017.12,73900),(2017.15,66500),(2017.18,46600),(2017.22,25100),(2017.28,15200),(2017.34,6900),(2017.42,2300),(2017.61,660),(2017.77,2000),(2017.85,6100),(2017.91,15200),(2017.95,34200),(2017.99,49900),(2018.02,51600),(2018.04,71400),(2018.07,78400),(2018.09,73100),(2018.11,59800),(2018.13,56500),(2018.16,54900),(2018.19,43300),(2018.22,23500),(2018.27,15200),(2018.33,5300),(2018.43,1650),(2018.63,660),(2018.79,2800),(2018.87,6900),(2018.93,16900),(2018.96,33400),(2018.99,36700),(2019.02,64800),(2019.04,54900),(2019.06,75600),(2019.09,74700),(2019.12,59800),(2019.14,60700),(2019.17,51600),(2019.20,23500),(2019.24,15200),(2019.29,6900),(2019.37,2000),(2019.53,330),(2019.69,1200),(2019.80,3600),(2019.88,11900),(2019.92,26800),(2019.96,46600),(2019.99,53200),(2020.02,62300),(2020.04,53200),(2020.06,71400),(2020.08,72200),(2020.10,66500),(2020.12,51600),(2020.15,43300),(2020.17,40000),(2020.20,26800),(2020.24,16900),(2020.26,6900),(2020.27,3600),(2020.29,8600),(2020.35,2800),(2020.47,330),(2020.71,1200),(2020.79,3600),(2020.86,10200),(2020.91,26800),(2020.96,43300),(2021.00,51600),(2021.03,59800),(2021.05,66500),(2021.07,69800),(2021.10,56500),(2021.13,53200),(2021.16,45000),(2021.20,26800),(2021.26,11900),(2021.34,2800),(2021.49,330),(2021.73,660),(2021.81,3600),(2021.89,13600),(2021.93,26800),(2021.98,46600),(2022.02,59800),(2022.05,66500),(2022.08,65600),(2022.11,53200),(2022.14,49900),(2022.17,40000),(2022.21,26800),(2022.26,13600),(2022.32,5300),(2022.44,660),(2022.75,660),(2022.83,3600),(2022.89,12700),(2022.95,30100),(2022.99,43300),(2023.04,53200),(2023.07,64500),(2023.10,59800),(2023.12,51600),(2023.16,36700),(2023.20,26800),(2023.24,13600),(2023.30,3600),(2023.42,330),(2023.69,330),(2023.81,3600),(2023.89,11900),(2023.95,26800),(2023.99,43300),(2024.03,46600),(2024.06,59800),(2024.09,61500),(2024.12,43300),(2024.14,38300),(2024.17,36700),(2024.21,26800),(2024.25,11900),(2024.33,2800),(2024.49,330),(2024.72,1200),(2024.80,3600),(2024.86,6900),(2024.91,15200),(2024.96,26800),(2024.99,36700),(2025.00,46600)]

titles = ['RSV', 'Adenovirus', 'Group A Streptococcus', 'Influenza']
y_tops = [20000, 12000, 16000, 200000]
y_ticks = [[0, 5000, 10000, 15000, 20000],
           [0, 2000, 4000, 6000, 8000, 10000, 12000],
           [0, 5000, 10000, 15000],
           [0, 50000, 100000, 150000, 200000]]
y_ticklabels = [['0', '5000', '10000', '15000', '20000'],
                ['0', '2000', '4000', '6000', '8000', '', '12000'],
                ['0', '5000', '10000', '15000'],
                ['0', '50000', '100000', '150000', '200000']]
x_years = list(range(2014, 2026))

observed = [rsv_obs, adeno_obs, gas_obs, flu_obs]
counter = [rsv_cf, adeno_cf, gas_cf, flu_cf]

RED = '#DF536B'

fig = plt.figure(figsize=(20.57, 27.08), dpi=100)
bottoms = [0.7751, 0.5251, 0.2751, 0.0251]
height = 0.2083
left, width = 0.035, 0.9636

for i in range(4):
    ax = fig.add_axes([left, bottoms[i], width, height])
    top = y_tops[i]
    ot, ov = np.array(observed[i], dtype=float).T
    ct, cv = np.array(counter[i], dtype=float).T

    ax.fill_between([cut, shade_end], 0, top, color='#e5e5e5', lw=0, zorder=0)
    ax.plot(ot, ov, color='black', lw=1.8, zorder=2)
    pre = ct <= cut
    post = ct > cut
    ax.plot(ct[pre], cv[pre], color=RED, lw=1.7, zorder=3)
    ax.plot(ct[post], cv[post], color=RED, lw=1.7, dashes=(6.2, 4.4), zorder=3)
    ax.axvline(cut, ymax=0.985, color='blue', lw=1.6, dashes=(4.8, 3.5), zorder=4)

    ax.set_xlim(2013.56, 2025.44)
    ax.set_ylim(-0.04 * top, 1.04 * top)
    ax.set_xticks(x_years)
    ax.set_xticklabels([str(y) for y in x_years])
    ax.set_yticks(y_ticks[i])
    ax.set_yticklabels(y_ticklabels[i])
    ax.tick_params(axis='x', length=0, pad=3, labelsize=19.5)
    ax.tick_params(axis='y', length=4.5, width=1, pad=2, labelsize=19.5, labelrotation=90)
    for lab in ax.get_yticklabels():
        lab.set_va('center')
    for side in ['top', 'right']:
        ax.spines[side].set_visible(False)
    for side in ['left', 'bottom']:
        ax.spines[side].set_linewidth(1.0)
        ax.spines[side].set_color('#222222')

    ax.set_ylabel('number of cases', fontsize=19.8)
    ax.yaxis.set_label_coords(-0.0187, 0.5)
    ax.set_title(titles[i], fontsize=27, fontweight='bold', pad=5)

    handles = [Line2D([], [], color='black', lw=1.8),
               Line2D([], [], color='#d01c1c', lw=1.7, dashes=(4.8, 3.2))]
    ax.legend(handles, ['observed', 'counter factual'], loc='upper left',
              bbox_to_anchor=(0.0087, 0.968), frameon=False, fontsize=26.5,
              handlelength=1.85, handletextpad=0.92, labelspacing=0.27,
              borderpad=0.4, borderaxespad=0)

    if i == 3:
        ax.set_xlabel('Yaer', fontsize=19.5)
        ax.xaxis.set_label_coords(0.5, -0.0585)
        ax.xaxis.label.set_va('top')

fig.savefig('out.png', dpi=100)
